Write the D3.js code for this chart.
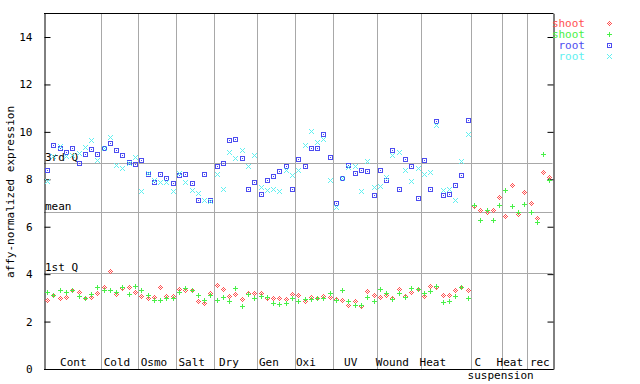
<!DOCTYPE html>
<html>
<head>
<meta charset="utf-8">
<script src="https://cdn.jsdelivr.net/npm/d3@7"></script>
<style>
  body { margin: 0; background: #fff; }
  svg { display: block; font-family: "DejaVu Sans Mono", monospace; font-size: 11px; }
</style>
</head>
<body>
<svg class="root" width="640" height="384"></svg>
<script>
// groups along the x axis, in sample counts
var groups = ["Cont", "Cold", "Osmo", "Salt", "Dry", "Gen", "Oxi", "UV", "Wound", "Heat", "C", "Heat", "rec"];
var groupSizes = [9, 6, 6, 6, 7, 6, 6, 7, 7, 8, 5, 4, 4];
// where each label sits, in sample units
var groupLabelAt = [4.67, 11.62, 17.52, 23.52, 29.46, 35.83, 41.72, 48.85, 55.49, 61.94, 69.11, 74.2, 78.98];
var subLabels = ["suspension"];
var subLabelAt = [72.74];

var yTicks = [0, 2, 4, 6, 8, 10, 12, 14];
var refNames = ["3rd Q", "mean", "1st Q"];
var refValues = [8.67, 6.6, 4.06];

var shootRed = [
  2.91, 3.12, 2.98, 3.05, 3.33, 3.23, 2.98, 3.05, 3.19,
  3.47, 4.13, 3.15, 3.40, 3.47, 3.26,
  3.08, 2.98, 3.05, 3.44, 3.08, 3.08,
  3.36, 3.33, 3.33, 2.88, 2.77, 3.19,
  3.54, 3.37, 3.09, 3.16, 2.94, 3.19, 3.19,
  3.22, 2.98, 2.98, 2.98, 2.94, 3.16,
  3.12, 2.88, 3.02, 2.98, 3.08, 3.02,
  2.94, 2.91, 2.70, 2.87, 2.65, 3.29, 3.12,
  3.02, 3.12, 2.98, 3.36, 3.08, 3.23, 3.36,
  3.08, 3.50, 3.47, 3.12, 3.12, 3.33, 3.44, 3.33,
  6.87, 6.70, 6.63, 6.70, 7.26,
  6.45, 7.74, 6.53, 7.45,
  6.98, 6.36, 8.30, 8.08
];
var shootGreen = [
  3.23, 3.12, 3.33, 3.23, 3.33, 3.08, 3.00, 3.16, 3.44,
  3.33, 3.33, 3.23, 3.44, 3.16, 3.51,
  3.33, 3.12, 2.91, 2.91, 2.98, 2.98,
  3.23, 3.40, 3.33, 3.12, 2.91, 3.12,
  2.91, 3.02, 2.88, 3.40, 2.67, 3.16, 2.98,
  3.08, 3.02, 2.77, 2.73, 2.77, 2.98,
  2.88, 2.94, 2.94, 2.98, 2.98, 3.19,
  2.91, 3.33, 2.88, 2.70, 2.70, 3.05, 2.88,
  3.36, 3.19, 2.94, 3.19, 3.05, 3.40, 3.36,
  3.22, 3.30, 3.50, 2.84, 2.88, 3.08, 3.44, 2.98,
  6.90, 6.28, 6.70, 6.28, 6.90,
  7.54, 6.86, 6.60, 6.94,
  6.60, 6.22, 9.06, 7.96
];
var rootBlue = [
  8.39, 9.44, 9.30, 9.13, 9.34, 8.67, 9.06, 9.26, 9.06,
  9.30, 9.51, 9.23, 9.02, 8.71, 8.64,
  8.81, 8.22, 7.87, 8.22, 8.04, 7.83,
  8.18, 8.22, 7.83, 7.12, 8.22, 7.11,
  8.58, 8.67, 9.64, 9.68, 8.88, 7.57, 7.87,
  7.40, 7.99, 8.12, 8.37, 8.54, 7.61,
  8.84, 8.54, 9.34, 9.30, 9.89, 8.92,
  6.98, 8.04, 8.62, 8.25, 8.41, 8.33, 7.32,
  8.38, 7.99, 9.22, 7.61, 8.84, 8.54, 7.23,
  8.80, 7.57, 10.44, 7.32, 7.40, 7.74, 8.20, 10.52
];
var rootCyan = [
  7.94, 8.98, 9.40, 8.98, 9.02, 9.09, 9.37, 9.65, 8.81,
  9.30, 9.79, 8.60, 8.46, 8.67, 8.92,
  7.51, 8.27, 7.99, 7.89, 7.89, 7.51,
  8.27, 7.89, 7.54, 7.43, 7.12, 7.08,
  8.22, 7.61, 9.13, 8.88, 9.23, 8.58, 9.02,
  7.68, 7.54, 7.61, 7.50, 8.41, 8.18,
  8.39, 9.44, 10.03, 9.58, 9.72, 7.99,
  6.84, 8.04, 8.53, 8.55, 7.50, 8.76, 7.66,
  7.71, 8.08, 9.02, 9.13, 8.41, 7.92, 8.46,
  8.22, 8.32, 10.31, 7.54, 7.61, 7.12, 8.78, 9.89
];

// pixel glyphs for the markers
var diamond = ["..#..", ".#.#.", "#.#.#", ".#.#.", "..#.."];
var plus    = ["..#..", "..#..", "#####", "..#..", "..#.."];
var square  = ["#####", "#...#", "#.#.#", "#...#", "#####"];
var cross   = ["#...#", ".#.#.", "..#..", ".#.#.", "#...#"];

var series = [
  {name: "shoot", values: shootRed,   color: "#ff5050", glyph: diamond},
  {name: "shoot", values: shootGreen, color: "#48f048", glyph: plus},
  {name: "root",  values: rootBlue,   color: "#4c4cf0", glyph: square},
  {name: "root",  values: rootCyan,   color: "#60f0f0", glyph: cross}
];

var nSamples = d3.sum(groupSizes);
var grey = "#a8a8a8";

// plot box (window.top is reserved, so no bare "top")
var plotL = 44, plotR = 552.5, plotT = 13.3, plotB = 369;

var x = d3.scaleLinear().domain([0, nSamples]).range([plotL, plotR]);
var y = d3.scaleLinear().domain([0, 15]).range([plotB, plotT]);

function glyphPath(glyph, x0, y0) {
  var p = "";
  glyph.forEach((row, r) => {
    for (var c = 0; c < row.length; c++) {
      if (row[c] === "#") p += "M" + (x0 + c) + "," + (y0 + r) + "h1v1h-1z";
    }
  });
  return p;
}

var svg = d3.select(".root");

// group dividers
var bounds = d3.cumsum(groupSizes).slice(0, -1);
svg.append("g")
  .selectAll("line")
  .data(bounds)
  .join("line")
    .attr("x1", (d) => Math.round(x(d)) + 0.5)
    .attr("x2", (d) => Math.round(x(d)) + 0.5)
    .attr("y1", plotT)
    .attr("y2", plotB)
    .attr("stroke", grey);

// quartile / mean lines
var refs = svg.append("g");
refValues.forEach((v, i) => {
  var ly = Math.round(y(v)) + 0.5;
  refs.append("line")
    .attr("x1", plotL).attr("x2", plotR)
    .attr("y1", ly).attr("y2", ly)
    .attr("stroke", grey);
  refs.append("text")
    .attr("x", plotL + 1)
    .attr("y", ly - 2.5)
    .text(refNames[i]);
});

// frame and axes
svg.append("line")
  .attr("x1", plotL).attr("x2", Math.round(plotR) + 0.5)
  .attr("y1", Math.round(plotT) + 0.5).attr("y2", Math.round(plotT) + 0.5)
  .attr("stroke", "#000");
svg.append("line")
  .attr("x1", plotL).attr("x2", Math.round(plotR) + 0.5)
  .attr("y1", plotB + 0.5).attr("y2", plotB + 0.5)
  .attr("stroke", "#000");

var yAxis = svg.append("g")
  .attr("transform", "translate(" + (plotL + 0.5) + ",0)")
  .call(d3.axisLeft(y).tickValues(yTicks).tickSizeInner(-6).tickSizeOuter(0).tickPadding(12));

svg.append("g")
  .attr("transform", "translate(" + (Math.round(plotR) + 0.5) + ",0)")
  .call(d3.axisRight(y).tickValues(yTicks).tickSizeInner(-6).tickSizeOuter(0).tickFormat(""));

svg.selectAll("g")
  .attr("font-family", null)
  .attr("font-size", null);
yAxis.selectAll("text").attr("fill", "#000");

svg.append("text")
  .attr("text-anchor", "middle")
  .attr("transform", "translate(14,192)rotate(-90)")
  .text("affy-normalized expression");

// group labels
svg.append("g")
  .selectAll("text")
  .data(groups)
  .join("text")
    .attr("text-anchor", "middle")
    .attr("x", (d, i) => x(groupLabelAt[i]))
    .attr("y", 366)
    .text((d) => d);

svg.append("g")
  .selectAll("text")
  .data(subLabels)
  .join("text")
    .attr("text-anchor", "middle")
    .attr("x", (d, i) => x(subLabelAt[i]))
    .attr("y", 379)
    .text((d) => d);

// points
series.forEach((s) => {
  var pts = s.values.map((v, i) => ({v: v, i: i})).filter((d) => d.v != null);
  svg.append("g")
    .selectAll("path")
    .data(pts)
    .join("path")
      .attr("d", (d) => glyphPath(s.glyph, Math.round(x(d.i + 0.5)) - 2, Math.round(y(d.v)) - 2))
      .attr("fill", s.color);
});

// legend
var legend = svg.append("g");
series.forEach((s, k) => {
  var by = 27 + k * 11;
  legend.append("text")
    .attr("text-anchor", "end")
    .attr("x", 585)
    .attr("y", by)
    .attr("fill", s.color)
    .text(s.name);
  legend.append("path")
    .attr("d", glyphPath(s.glyph, 607, by - 6))
    .attr("fill", s.color);
});
</script>
</body>
</html>
